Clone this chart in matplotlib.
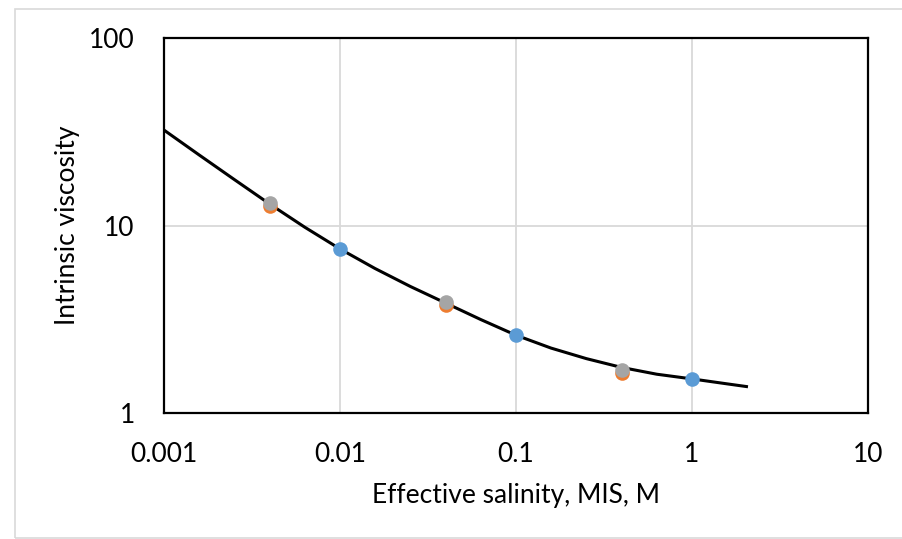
import matplotlib
matplotlib.use("Agg")
import matplotlib.pyplot as plt
from matplotlib.patches import Rectangle

plt.rcParams['font.family'] = ['Lato', 'DejaVu Sans']

# Fitted curve
curve_x = [0.001, 0.00158, 0.00251, 0.00398, 0.00631, 0.01, 0.0158, 0.0251, 0.0398,
           0.0631, 0.1, 0.158, 0.251, 0.398, 0.631, 1.0, 1.585, 2.08]
curve_y = [32.28, 23.82, 17.58, 13.03, 9.79, 7.50, 5.90, 4.73, 3.86,
           3.15, 2.60, 2.22, 1.95, 1.75, 1.61, 1.52, 1.43, 1.38]

# Data series
blue_x = [0.01, 0.1, 1.0]
blue_y = [7.5, 2.61, 1.52]
orange_x = [0.004, 0.04, 0.4]
orange_y = [12.7, 3.77, 1.63]
gray_x = [0.004, 0.04, 0.4]
gray_y = [13.2, 3.91, 1.70]

x_ticks = [0.001, 0.01, 0.1, 1, 10]
x_ticklabels = ["0.001", "0.01", "0.1", "1", "10"]
y_ticks = [1, 10, 100]
y_ticklabels = ["1", "10", "100"]

W, H = 902, 539
fig = plt.figure(figsize=(W / 100, H / 100), dpi=100)
fig.patch.set_facecolor('white')

# outer chart-area border
fig.patches.append(Rectangle((15 / W, 1 - 538 / H), (W + 5 - 15) / W, (538 - 9) / H,
                             transform=fig.transFigure, fill=False,
                             edgecolor='#D9D9D9', linewidth=1.2))

ax = fig.add_axes([164 / W, 1 - 413 / H, 704 / W, 375 / H])
ax.set_xscale('log')
ax.set_yscale('log')
ax.set_xlim(0.001, 10)
ax.set_ylim(1, 100)

ax.grid(True, which='major', color='#D9D9D9', linewidth=1.3)
ax.set_axisbelow(True)

ax.plot(curve_x, curve_y, color='black', linewidth=2.2, zorder=3,
        solid_capstyle='butt', solid_joinstyle='round')
ax.plot(blue_x, blue_y, 'o', color='#5B9BD5', markersize=10.5, markeredgewidth=0, zorder=4)
ax.plot(orange_x, orange_y, 'o', color='#ED7D31', markersize=10.5, markeredgewidth=0, zorder=4)
ax.plot(gray_x, gray_y, 'o', color='#A5A5A5', markersize=10.5, markeredgewidth=0, zorder=5)

ax.set_xticks(x_ticks)
ax.set_xticklabels(x_ticklabels)
ax.set_yticks(y_ticks)
ax.set_yticklabels(y_ticklabels)
ax.minorticks_off()
ax.tick_params(axis='both', which='both', length=0, labelsize=19, pad=21, colors='black')

for s in ax.spines.values():
    s.set_color('black')
    s.set_linewidth(1.6)

fig.text(516 / W, 1 - 495 / H, "Effective salinity, MIS, M", ha='center', va='center', fontsize=19)
fig.text(68 / W, 1 - 225 / H, "Intrinsic viscosity", ha='center', va='center', rotation=90, fontsize=19)

fig.savefig("out.png", dpi=100)
